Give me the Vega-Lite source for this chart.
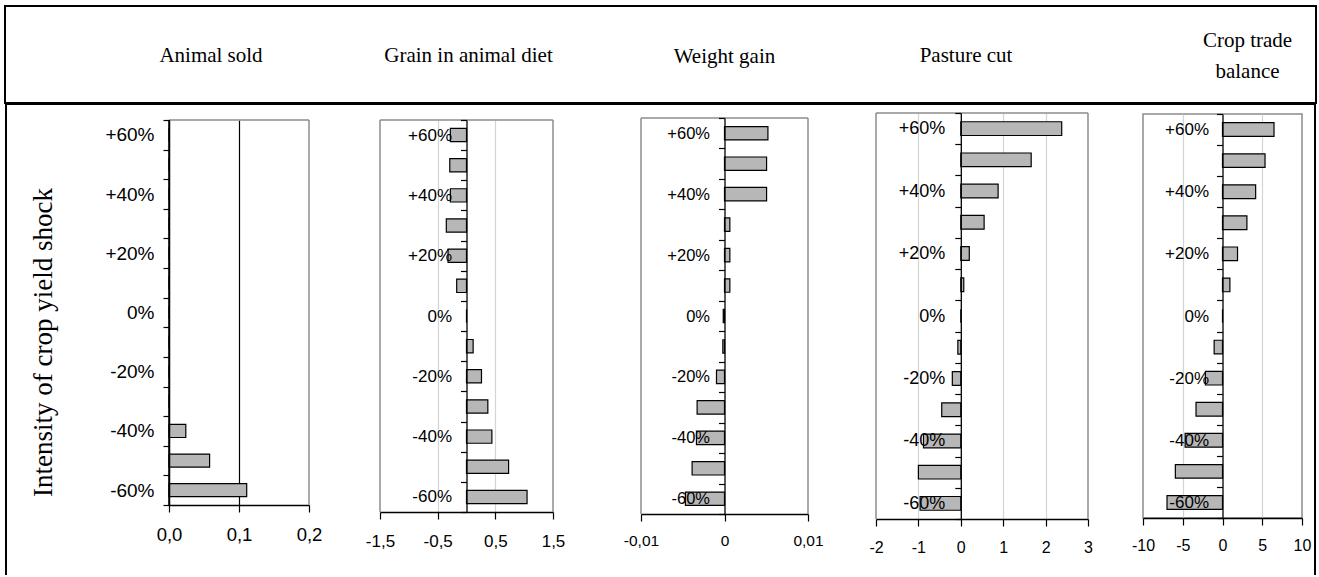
{
  "$schema": "https://vega.github.io/schema/vega-lite/v6.json",
  "background": "white",
  "padding": {"left": 4, "top": 5, "right": 4, "bottom": 0},
  "data": {"values": [
    {"panel": "animal", "shock": "+60%", "value": 0},
    {"panel": "animal", "shock": "+50%", "value": 0},
    {"panel": "animal", "shock": "+40%", "value": 0},
    {"panel": "animal", "shock": "+30%", "value": 0},
    {"panel": "animal", "shock": "+20%", "value": 0},
    {"panel": "animal", "shock": "+10%", "value": 0},
    {"panel": "animal", "shock": "0%", "value": 0},
    {"panel": "animal", "shock": "-10%", "value": 0},
    {"panel": "animal", "shock": "-20%", "value": 0},
    {"panel": "animal", "shock": "-30%", "value": 0},
    {"panel": "animal", "shock": "-40%", "value": 0.024},
    {"panel": "animal", "shock": "-50%", "value": 0.058},
    {"panel": "animal", "shock": "-60%", "value": 0.111},
    {"panel": "grain", "shock": "+60%", "value": -0.28},
    {"panel": "grain", "shock": "+50%", "value": -0.29},
    {"panel": "grain", "shock": "+40%", "value": -0.28},
    {"panel": "grain", "shock": "+30%", "value": -0.35},
    {"panel": "grain", "shock": "+20%", "value": -0.32},
    {"panel": "grain", "shock": "+10%", "value": -0.17},
    {"panel": "grain", "shock": "0%", "value": 0},
    {"panel": "grain", "shock": "-10%", "value": 0.115},
    {"panel": "grain", "shock": "-20%", "value": 0.26},
    {"panel": "grain", "shock": "-30%", "value": 0.37},
    {"panel": "grain", "shock": "-40%", "value": 0.44},
    {"panel": "grain", "shock": "-50%", "value": 0.73},
    {"panel": "grain", "shock": "-60%", "value": 1.05},
    {"panel": "weight", "shock": "+60%", "value": 0.0052},
    {"panel": "weight", "shock": "+50%", "value": 0.00504},
    {"panel": "weight", "shock": "+40%", "value": 0.00504},
    {"panel": "weight", "shock": "+30%", "value": 0.00064},
    {"panel": "weight", "shock": "+20%", "value": 0.00064},
    {"panel": "weight", "shock": "+10%", "value": 0.00064},
    {"panel": "weight", "shock": "0%", "value": -0.00015},
    {"panel": "weight", "shock": "-10%", "value": -0.0002},
    {"panel": "weight", "shock": "-20%", "value": -0.00096},
    {"panel": "weight", "shock": "-30%", "value": -0.00328},
    {"panel": "weight", "shock": "-40%", "value": -0.00336},
    {"panel": "weight", "shock": "-50%", "value": -0.00388},
    {"panel": "weight", "shock": "-60%", "value": -0.00468},
    {"panel": "pasture", "shock": "+60%", "value": 2.38},
    {"panel": "pasture", "shock": "+50%", "value": 1.66},
    {"panel": "pasture", "shock": "+40%", "value": 0.88},
    {"panel": "pasture", "shock": "+30%", "value": 0.55},
    {"panel": "pasture", "shock": "+20%", "value": 0.2},
    {"panel": "pasture", "shock": "+10%", "value": 0.07},
    {"panel": "pasture", "shock": "0%", "value": 0},
    {"panel": "pasture", "shock": "-10%", "value": -0.07},
    {"panel": "pasture", "shock": "-20%", "value": -0.2},
    {"panel": "pasture", "shock": "-30%", "value": -0.45},
    {"panel": "pasture", "shock": "-40%", "value": -0.88},
    {"panel": "pasture", "shock": "-50%", "value": -1.0},
    {"panel": "pasture", "shock": "-60%", "value": -0.96},
    {"panel": "trade", "shock": "+60%", "value": 6.48},
    {"panel": "trade", "shock": "+50%", "value": 5.35},
    {"panel": "trade", "shock": "+40%", "value": 4.17},
    {"panel": "trade", "shock": "+30%", "value": 3.07},
    {"panel": "trade", "shock": "+20%", "value": 1.89},
    {"panel": "trade", "shock": "+10%", "value": 0.93},
    {"panel": "trade", "shock": "0%", "value": 0},
    {"panel": "trade", "shock": "-10%", "value": -1.05},
    {"panel": "trade", "shock": "-20%", "value": -2.15},
    {"panel": "trade", "shock": "-30%", "value": -3.33},
    {"panel": "trade", "shock": "-40%", "value": -4.7},
    {"panel": "trade", "shock": "-50%", "value": -5.93},
    {"panel": "trade", "shock": "-60%", "value": -6.98}
  ]},
  "spacing": 0,
  "bounds": "flush",
  "vconcat": [
    {"width": 1311, "height": 97, "data": {"values": []}, "mark": "text", "view": {"stroke": "black", "strokeWidth": 2, "fill": null}},
    {
      "spacing": 0,
      "bounds": "flush",
      "hconcat": [
        {"width": 2, "height": 472, "data": {"values": []}, "mark": "text", "view": {"stroke": null, "fill": "black"}},
        {"width": 162, "height": 1, "data": {"values": []}, "mark": "text", "view": {"stroke": null}},
        {
          "spacing": 0, "bounds": "flush",
          "vconcat": [
            {"width": 140, "height": 17, "data": {"values": []}, "mark": "text", "view": {"stroke": null}},
            {
              "width": 140, "height": 385,
              "view": {"stroke": null},
              "title": {"text": "Animal sold", "dx": -28, "offset": 45},
              "layer": [
                {
                  "transform": [{"filter": "datum.panel === 'animal'"}],
                  "mark": {"type": "bar", "fill": "#b7b7b7", "stroke": "black", "strokeWidth": 1.2, "height": {"band": 0.44}},
                  "encoding": {
                    "y": {"field": "shock", "type": "nominal",
                      "scale": {"domain": ["+60%","+50%","+40%","+30%","+20%","+10%","0%","-10%","-20%","-30%","-40%","-50%","-60%"], "paddingInner": 0, "paddingOuter": 0},
                      "axis": {"title": "Intensity of crop yield shock", "titleFont": "Liberation Serif", "titleFontSize": 27, "titleFontWeight": "normal", "titleColor": "black",
                        "titleX": -126, "titleY": 222, "titleAngle": -90, "titleAlign": "center", "titleBaseline": "middle",
                        "domain": true, "domainColor": "black", "domainWidth": 1.5, "zindex": 1,
                        "tickBand": "extent", "tickSize": 6, "labelPadding": 9, "labelFontSize": 19, "grid": false,
                        "labelExpr": "indexof(['+60%','+40%','+20%','0%','-20%','-40%','-60%'], datum.label) >= 0 ? datum.label : ''"}},
                    "x": {"field": "value", "type": "quantitative", "stack": null,
                      "scale": {"domain": [0, 0.2], "nice": false},
                      "axis": {"title": null, "values": [0, 0.1, 0.2], "grid": true,
                        "gridColor": {"condition": {"test": "datum.value > 0.05 && datum.value < 0.15", "value": "black"}, "value": "transparent"},
                        "labelExpr": "replace(format(datum.value, '.1f'), '.', ',')", "labelPadding": 13, "labelFontSize": 18.5}}
                  }
                },
                {"data": {"values": [{}]}, "mark": {"type": "rule", "color": "#8c8c8c", "strokeWidth": 1.5}, "encoding": {"x": {"datum": 0.2}}},
                {"data": {"values": [{}]}, "mark": {"type": "rule", "color": "#8c8c8c", "strokeWidth": 1.5}, "encoding": {"y": {"datum": "+60%", "bandPosition": 0}}},
                {"data": {"values": [{}]}, "mark": {"type": "rule", "color": "black", "strokeWidth": 1.5}, "encoding": {"x": {"datum": 0}}}
              ]
            }
          ]
        },
        {"width": 211, "height": 1, "data": {"values": []}, "mark": "text", "view": {"stroke": null}},
        {
          "spacing": 0, "bounds": "flush",
          "vconcat": [
            {"width": 173, "height": 17, "data": {"values": []}, "mark": "text", "view": {"stroke": null}},
            {
              "width": 173, "height": 392,
              "view": {"stroke": null},
              "title": {"text": "Grain in animal diet", "dx": 2, "offset": 45},
              "layer": [
                {
                  "transform": [{"filter": "datum.panel === 'grain'"}],
                  "mark": {"type": "bar", "fill": "#b7b7b7", "stroke": "black", "strokeWidth": 1.2, "height": {"band": 0.44}},
                  "encoding": {
                    "y": {"field": "shock", "type": "nominal",
                      "scale": {"domain": ["+60%","+50%","+40%","+30%","+20%","+10%","0%","-10%","-20%","-30%","-40%","-50%","-60%"], "paddingInner": 0, "paddingOuter": 0},
                      "axis": {"title": null, "offset": -86.5, "zindex": 1, "tickBand": "extent", "tickSize": 6, "labelPadding": 9, "labelFontSize": 17, "grid": false,
                        "labelExpr": "indexof(['+60%','+40%','+20%','0%','-20%','-40%','-60%'], datum.label) >= 0 ? datum.label : ''"}},
                    "x": {"field": "value", "type": "quantitative", "stack": null,
                      "scale": {"domain": [-1.5, 1.5], "nice": false},
                      "axis": {"title": null, "values": [-1.5, -0.5, 0.5, 1.5], "grid": true,
                        "gridColor": {"condition": {"test": "abs(datum.value) < 1", "value": "#d4d4d4"}, "value": "transparent"},
                        "labelExpr": "replace(toString(datum.value), '.', ',')", "labelPadding": 14, "labelFontSize": 17}}
                  }
                },
                {"data": {"values": [{}]}, "mark": {"type": "rule", "color": "#8c8c8c", "strokeWidth": 1.5}, "encoding": {"x": {"datum": -1.5}}},
                {"data": {"values": [{}]}, "mark": {"type": "rule", "color": "#8c8c8c", "strokeWidth": 1.5}, "encoding": {"x": {"datum": 1.5}}},
                {"data": {"values": [{}]}, "mark": {"type": "rule", "color": "#8c8c8c", "strokeWidth": 1.5}, "encoding": {"y": {"datum": "+60%", "bandPosition": 0}}}
              ]
            }
          ]
        },
        {"width": 261, "height": 1, "data": {"values": []}, "mark": "text", "view": {"stroke": null}},
        {
          "spacing": 0, "bounds": "flush",
          "vconcat": [
            {"width": 167, "height": 15, "data": {"values": []}, "mark": "text", "view": {"stroke": null}},
            {
              "width": 167, "height": 396,
              "view": {"stroke": null},
              "title": {"text": "Weight gain", "dx": 0, "offset": 43},
              "layer": [
                {
                  "transform": [{"filter": "datum.panel === 'weight'"}],
                  "mark": {"type": "bar", "fill": "#b7b7b7", "stroke": "black", "strokeWidth": 1.2, "height": {"band": 0.44}},
                  "encoding": {
                    "y": {"field": "shock", "type": "nominal",
                      "scale": {"domain": ["+60%","+50%","+40%","+30%","+20%","+10%","0%","-10%","-20%","-30%","-40%","-50%","-60%"], "paddingInner": 0, "paddingOuter": 0},
                      "axis": {"title": null, "offset": -83.5, "zindex": 1, "tickBand": "extent", "tickSize": 6, "labelPadding": 9, "labelFontSize": 16.5, "grid": false,
                        "labelExpr": "indexof(['+60%','+40%','+20%','0%','-20%','-40%','-60%'], datum.label) >= 0 ? datum.label : ''"}},
                    "x": {"field": "value", "type": "quantitative", "stack": null,
                      "scale": {"domain": [-0.01, 0.01], "nice": false},
                      "axis": {"title": null, "values": [-0.01, 0, 0.01], "grid": false,
                        "labelExpr": "replace(toString(datum.value), '.', ',')", "labelPadding": 12, "labelFontSize": 15.5}}
                  }
                },
                {"data": {"values": [{}]}, "mark": {"type": "rule", "color": "#8c8c8c", "strokeWidth": 1.5}, "encoding": {"x": {"datum": -0.01}}},
                {"data": {"values": [{}]}, "mark": {"type": "rule", "color": "#8c8c8c", "strokeWidth": 1.5}, "encoding": {"x": {"datum": 0.01}}},
                {"data": {"values": [{}]}, "mark": {"type": "rule", "color": "#8c8c8c", "strokeWidth": 1.5}, "encoding": {"y": {"datum": "+60%", "bandPosition": 0}}}
              ]
            }
          ]
        },
        {"width": 235, "height": 1, "data": {"values": []}, "mark": "text", "view": {"stroke": null}},
        {
          "spacing": 0, "bounds": "flush",
          "vconcat": [
            {"width": 212, "height": 10, "data": {"values": []}, "mark": "text", "view": {"stroke": null}},
            {
              "width": 212, "height": 406,
              "view": {"stroke": null},
              "title": {"text": "Pasture cut", "dx": -16, "offset": 38},
              "layer": [
                {
                  "transform": [{"filter": "datum.panel === 'pasture'"}],
                  "mark": {"type": "bar", "fill": "#b7b7b7", "stroke": "black", "strokeWidth": 1.2, "height": {"band": 0.44}},
                  "encoding": {
                    "y": {"field": "shock", "type": "nominal",
                      "scale": {"domain": ["+60%","+50%","+40%","+30%","+20%","+10%","0%","-10%","-20%","-30%","-40%","-50%","-60%"], "paddingInner": 0, "paddingOuter": 0},
                      "axis": {"title": null, "offset": -84.8, "zindex": 1, "tickBand": "extent", "tickSize": 6, "labelPadding": 10, "labelFontSize": 18, "grid": false,
                        "labelExpr": "indexof(['+60%','+40%','+20%','0%','-20%','-40%','-60%'], datum.label) >= 0 ? datum.label : ''"}},
                    "x": {"field": "value", "type": "quantitative", "stack": null,
                      "scale": {"domain": [-2, 3], "nice": false},
                      "axis": {"title": null, "values": [-2, -1, 0, 1, 2, 3], "grid": true,
                        "gridColor": {"condition": {"test": "datum.value === -1 || datum.value === 1 || datum.value === 2", "value": "#d4d4d4"}, "value": "transparent"},
                        "labelExpr": "toString(datum.value)", "labelPadding": 13, "labelFontSize": 16}}
                  }
                },
                {"data": {"values": [{}]}, "mark": {"type": "rule", "color": "#8c8c8c", "strokeWidth": 1.5}, "encoding": {"x": {"datum": -2}}},
                {"data": {"values": [{}]}, "mark": {"type": "rule", "color": "#8c8c8c", "strokeWidth": 1.5}, "encoding": {"x": {"datum": 3}}},
                {"data": {"values": [{}]}, "mark": {"type": "rule", "color": "#8c8c8c", "strokeWidth": 1.5}, "encoding": {"y": {"datum": "+60%", "bandPosition": 0}}}
              ]
            }
          ]
        },
        {"width": 267, "height": 1, "data": {"values": []}, "mark": "text", "view": {"stroke": null}},
        {
          "spacing": 0, "bounds": "flush",
          "vconcat": [
            {"width": 159, "height": 11, "data": {"values": []}, "mark": "text", "view": {"stroke": null}},
            {
              "width": 159, "height": 404,
              "title": {"text": ["Crop trade", "balance"], "dx": 25, "offset": 23, "lineHeight": 31},
              "transform": [{"filter": "datum.panel === 'trade'"}],
              "mark": {"type": "bar", "fill": "#b7b7b7", "stroke": "black", "strokeWidth": 1.2, "height": {"band": 0.44}},
              "encoding": {
                "y": {"field": "shock", "type": "nominal",
                  "scale": {"domain": ["+60%","+50%","+40%","+30%","+20%","+10%","0%","-10%","-20%","-30%","-40%","-50%","-60%"], "paddingInner": 0, "paddingOuter": 0},
                  "axis": {"title": null, "offset": -79.5, "zindex": 1, "tickBand": "extent", "tickSize": 6, "labelPadding": 8, "labelFontSize": 17, "grid": false,
                    "labelExpr": "indexof(['+60%','+40%','+20%','0%','-20%','-40%','-60%'], datum.label) >= 0 ? datum.label : ''"}},
                "x": {"field": "value", "type": "quantitative", "stack": null,
                  "scale": {"domain": [-10, 10], "nice": false},
                  "axis": {"title": null, "values": [-10, -5, 0, 5, 10], "grid": true, "labelOverlap": false,
                    "gridColor": {"condition": {"test": "abs(datum.value) > 2 && abs(datum.value) < 8", "value": "#d4d4d4"}, "value": "transparent"},
                    "labelExpr": "toString(datum.value)", "labelPadding": 12, "labelFontSize": 16}}
              }
            }
          ]
        },
        {"width": 171, "height": 1, "data": {"values": []}, "mark": "text", "view": {"stroke": null}},
        {"width": 2, "height": 472, "data": {"values": []}, "mark": "text", "view": {"stroke": null, "fill": "black"}}
      ]
    },
    {"width": 1311, "height": 2, "data": {"values": []}, "mark": "text", "view": {"stroke": null, "fill": "black"}}
  ],
  "config": {
    "view": {"stroke": "#8c8c8c", "strokeWidth": 1.5},
    "axis": {
      "labelFont": "Liberation Sans, Arial, sans-serif",
      "labelColor": "black", "domainColor": "black", "tickColor": "black",
      "domainWidth": 1.3, "tickWidth": 1.2, "tickSize": 7, "gridWidth": 1.2,
      "labelFlush": false, "labelOverlap": false
    },
    "title": {"font": "Liberation Serif", "fontSize": 21, "fontWeight": "normal", "color": "black", "frame": "group", "baseline": "middle", "anchor": "middle"}
  }
}
